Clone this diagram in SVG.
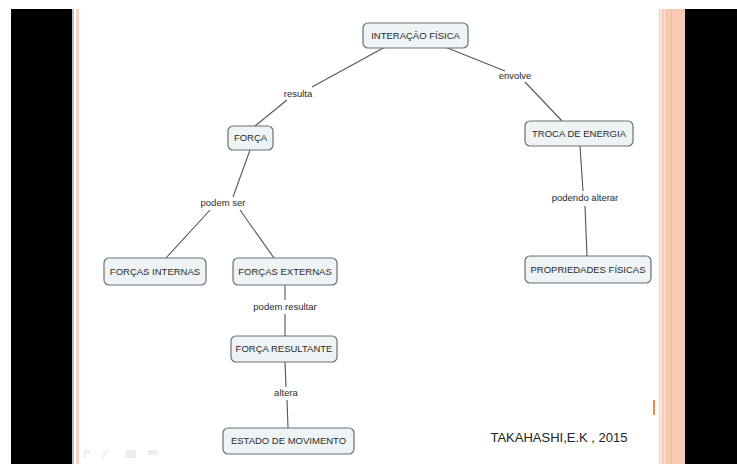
<svg xmlns="http://www.w3.org/2000/svg" width="737" height="464" viewBox="0 0 737 464">
<style>
.n rect{fill:#eef3f5;stroke:#6e6e6e;stroke-width:1.2}
.n text{font-family:"Liberation Sans","DejaVu Sans",sans-serif;font-size:9.5px;fill:#2a2a2a;text-anchor:middle}
.lbl{font-family:"Liberation Sans","DejaVu Sans",sans-serif;font-size:9.5px;fill:#2a2a2a;text-anchor:middle}
#links line{stroke:#555;stroke-width:1.1}
</style>
<rect width="737" height="464" fill="#fff"/>
<rect x="11" y="9" width="61" height="455" fill="#000"/>
<rect x="72" y="9" width="2" height="455" fill="#bdbdbd"/>
<rect x="76" y="9" width="3" height="455" fill="#f8d2c0"/>
<rect x="659" y="9" width="26" height="455" fill="#f9c9b2"/>
<rect x="660" y="9" width="2" height="455" fill="#fde6da"/>
<rect x="664" y="9" width="1" height="455" fill="#fde6da"/>
<rect x="671" y="9" width="1" height="455" fill="#f5b89c"/>
<rect x="685" y="9" width="52" height="455" fill="#000"/>
<rect x="653" y="400" width="2" height="15" fill="#f58a4a"/>
<g fill="#ededed">
<rect x="84" y="450" width="2" height="8"/><rect x="84" y="450" width="6" height="3"/>
<line x1="102" y1="458" x2="108" y2="450" stroke="#ededed" stroke-width="2"/>
<rect x="126" y="450" width="10" height="8"/>
<rect x="148" y="450" width="10" height="5"/>
</g>
<g id="links">
<line x1="385" y1="47" x2="312" y2="87"/>
<line x1="287" y1="100" x2="255" y2="126"/>
<line x1="445" y1="47" x2="505" y2="71"/>
<line x1="525" y1="82" x2="562" y2="121"/>
<line x1="250" y1="150" x2="233" y2="197"/>
<line x1="210" y1="210" x2="166" y2="258"/>
<line x1="240" y1="210" x2="274" y2="258"/>
<line x1="580" y1="146" x2="583" y2="191"/>
<line x1="585" y1="206" x2="587" y2="256"/>
<line x1="285" y1="285" x2="285" y2="300"/>
<line x1="285" y1="314" x2="285" y2="336"/>
<line x1="285" y1="362" x2="286" y2="387"/>
<line x1="287" y1="400" x2="288" y2="428"/>
</g>
<g id="labels">
<text class="lbl" x="298" y="97">resulta</text>
<text class="lbl" x="515" y="79">envolve</text>
<text class="lbl" x="223" y="206">podem ser</text>
<text class="lbl" x="585" y="201">podendo alterar</text>
<text class="lbl" x="285" y="310">podem resultar</text>
<text class="lbl" x="286" y="396">altera</text>
</g>
<g id="n1" class="n"><rect x="363" y="23" width="105" height="25" rx="5"/><text x="415.5" y="39">INTERAÇÃO FÍSICA</text></g>
<g id="n2" class="n"><rect x="228" y="126" width="45" height="24" rx="5"/><text x="250.5" y="141">FORÇA</text></g>
<g id="n3" class="n"><rect x="525" y="121" width="108" height="25" rx="5"/><text x="579" y="137">TROCA DE ENERGIA</text></g>
<g id="n4" class="n"><rect x="104" y="258" width="102" height="27" rx="5"/><text x="155" y="275">FORÇAS INTERNAS</text></g>
<g id="n5" class="n"><rect x="233" y="258" width="104" height="27" rx="5"/><text x="285" y="275">FORÇAS EXTERNAS</text></g>
<g id="n6" class="n"><rect x="525" y="256" width="126" height="27" rx="5"/><text x="588" y="273">PROPRIEDADES FÍSICAS</text></g>
<g id="n7" class="n"><rect x="231" y="336" width="106" height="26" rx="5"/><text x="284" y="352">FORÇA RESULTANTE</text></g>
<g id="n8" class="n"><rect x="223" y="428" width="131" height="26" rx="5"/><text x="288.5" y="444">ESTADO DE MOVIMENTO</text></g>
<text x="559" y="442" font-family="'Liberation Sans','DejaVu Sans',sans-serif" font-size="13" fill="#222" text-anchor="middle">TAKAHASHI,E.K , 2015</text>
</svg>
